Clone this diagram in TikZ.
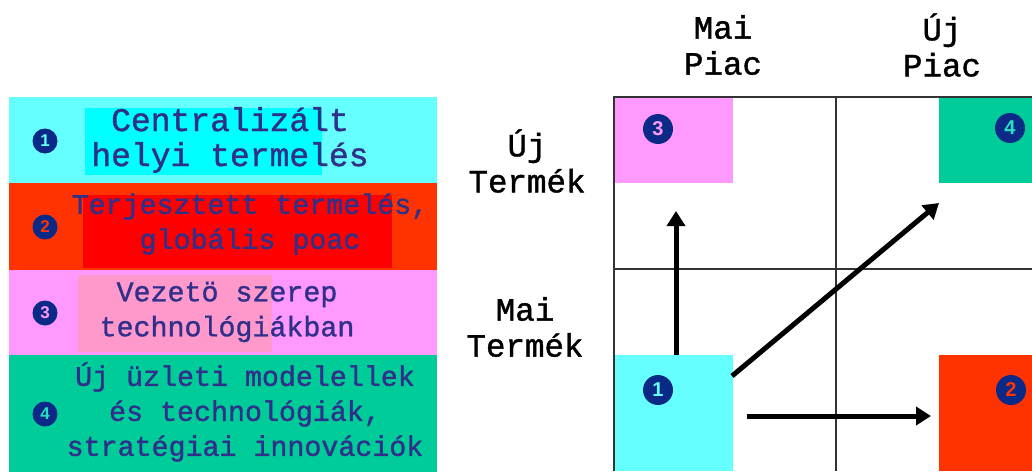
\documentclass[tikz,border=0pt]{standalone}
\usepackage{fontspec}
\setmonofont{Liberation Mono}
\newfontfamily\courfont[FakeBold=1.2]{Liberation Mono}
\setsansfont{Liberation Sans}
\usetikzlibrary{arrows.meta}
\definecolor{cyanbg}{HTML}{66FFFF}
\definecolor{cyanin}{HTML}{00FFFF}
\definecolor{redbg}{HTML}{FF3300}
\definecolor{redin}{HTML}{FF0000}
\definecolor{pinkbg}{HTML}{FF99FF}
\definecolor{pinkin}{HTML}{FF99CC}
\definecolor{greenbg}{HTML}{00CC99}
\definecolor{navy}{HTML}{0B2A88}
\definecolor{txtcol}{HTML}{30308A}
\definecolor{gridcol}{HTML}{333333}
\begin{document}
\begin{tikzpicture}[x=1pt,y=-1pt,
  box/.style={draw=none, inner sep=0pt, outer sep=0pt, anchor=north west},
  bandtext/.style={font=\courfont\fontsize{28.3}{35}\selectfont, text=txtcol, align=center, inner sep=0pt},
  bigtext/.style={font=\courfont\fontsize{33}{35}\selectfont, text=txtcol, align=center, inner sep=0pt},
  head/.style={font=\courfont\fontsize{32.5}{36}\selectfont, text=black, align=center, inner sep=0pt},
  numsmall/.style={circle, fill=navy, minimum size=25pt, inner sep=0pt, font=\sffamily\bfseries\fontsize{17}{17}\selectfont},
  numbig/.style={circle, fill=navy, minimum size=30pt, inner sep=0pt, font=\sffamily\bfseries\fontsize{20}{20}\selectfont},
  gridline/.style={draw=gridcol, line width=1.3pt},
  arr/.style={line width=5pt, -{Triangle[length=15pt, width=18pt]}}
]
\useasboundingbox (0,0) rectangle (1032,471);
\fill[white] (0,0) rectangle (1032,471);

% ---------- left legend ----------
\node[box, fill=cyanbg, minimum width=428pt, minimum height=86pt] (b1) at (9,97) {};
\node[box, fill=redbg, minimum width=428pt, minimum height=87pt] (b2) at (9,183) {};
\node[box, fill=pinkbg, minimum width=428pt, minimum height=85pt] (b3) at (9,270) {};
\node[box, fill=greenbg, minimum width=428pt, minimum height=117pt] (b4) at (9,355) {};

\node[box, fill=cyanin, minimum width=237pt, minimum height=67pt] (i1) at (85,108) {};
\node[box, fill=redin, minimum width=309pt, minimum height=73pt] (i2) at (83,195) {};
\node[box, fill=pinkin, minimum width=194pt, minimum height=77pt] (i3) at (78,275) {};

\node[numsmall, text=cyanbg] (c1) at (45,141) {1};
\node[numsmall, text=redbg] (c2) at (45,227) {2};
\node[numsmall, text=pinkbg] (c3) at (45,313) {3};
\node[numsmall, text=greenbg!60!cyanbg] (c4) at (45,414) {4};

\node[bigtext] (t1) at (230,140) {Centralizált\\helyi termelés};
\node[bandtext] (t2) at (250,224) {Terjesztett termelés,\\globális poac};
\node[bandtext] (t3) at (227,312) {Vezetö szerep\\technológiákban};
\node[bandtext] (t4) at (245,412) {Új üzleti modelellek\\és technológiák,\\stratégiai innovációk};

% ---------- headers ----------
\node[head] (h1) at (723,45) {Mai\\Piac};
\node[head] (h2) at (942,45) {Új\\Piac};
\node[head] (r1) at (527,161) {Új\\Termék};
\node[head] (r2) at (525,327) {Mai\\Termék};

% ---------- matrix boxes ----------
\node[box, fill=pinkbg, minimum width=119pt, minimum height=86pt] (q3) at (614,97) {};
\node[box, fill=greenbg, minimum width=93pt, minimum height=86pt] (q4) at (939,97) {};
\node[box, fill=cyanbg, minimum width=119pt, minimum height=116pt] (q1) at (614,355) {};
\node[box, fill=redbg, minimum width=93pt, minimum height=116pt] (q2) at (939,355) {};

\node[numbig, text=pinkbg] (n3) at (658,129) {3};
\node[numbig, text=greenbg!60!cyanbg] (n4) at (1010,128) {4};
\node[numbig, text=cyanbg] (n1) at (658,390) {1};
\node[numbig, text=redbg] (n2) at (1011,390) {2};

% ---------- grid ----------
\coordinate (gtl) at (614,97);
\coordinate (gbl) at (614,471);
\coordinate (gtr) at (1032,97);
\coordinate (vtop) at (836,97);
\coordinate (vbot) at (836,471);
\coordinate (hl) at (614,269);
\coordinate (hr) at (1032,269);
\draw[gridline] (gbl) -- (gtl) -- (gtr);
\draw[gridline] (vtop) -- (vbot);
\draw[gridline] (hl) -- (hr);

% ---------- arrows ----------
\coordinate (up) at (676,211);
\coordinate (diag0) at (732,376);
\coordinate (diag1) at (939,203);
\coordinate (hor0) at (747,416);
\coordinate (hor1) at (931,416);
\draw[arr] (q1.north -| up) -- (up);
\draw[arr] (diag0) -- (diag1);
\draw[arr] (hor0) -- (hor1);
\end{tikzpicture}
\end{document}
